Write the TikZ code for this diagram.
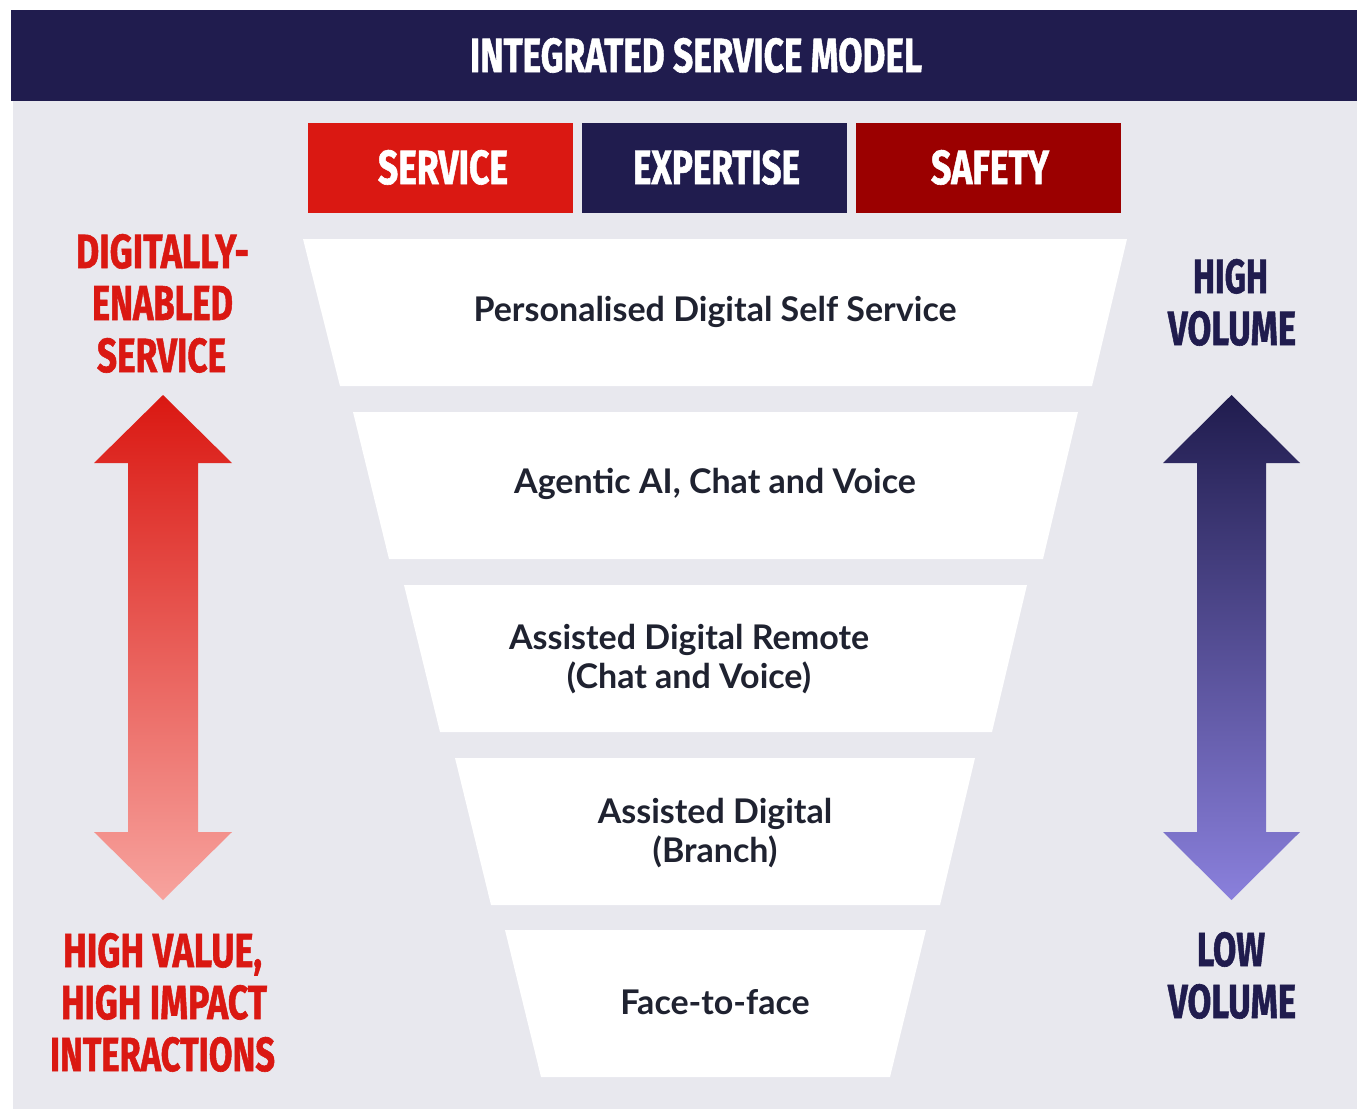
\documentclass[tikz,border=0pt]{standalone}
\usepackage{fontspec}
\usepackage{graphicx}
\setmainfont{Lato}
\newfontfamily\headfont[BoldFeatures={FakeBold=1.3}]{Fira Sans}
\definecolor{navy}{HTML}{201C4E}
\definecolor{panel}{HTML}{E8E8EE}
\definecolor{redA}{HTML}{DA1812}
\definecolor{redB}{HTML}{9B0000}
\definecolor{ink}{HTML}{1F2230}
\newcommand{\cond}[2]{\resizebox{#1pt}{34pt}{\headfont\bfseries #2}}
\tikzset{
  hbox/.style={inner sep=0pt, anchor=base},
  tier/.style={fill=white, draw=none},
  tiertext/.style={text=ink, font=\bfseries\fontsize{34}{39}\selectfont, align=center, inner sep=0pt},
}
\begin{document}
\begin{tikzpicture}[x=1pt,y=-1pt]
\useasboundingbox (0,0) rectangle (1357,1111);
\fill[white] (0,0) rectangle (1357,1111);
% panel and banner
\fill[panel] (13,101) rectangle (1357,1109);
\fill[navy] (11,10) rectangle (1357,101);
\node[hbox, text=white] (title) at (696,72) {\cond{452}{INTEGRATED SERVICE MODEL}};
% header boxes
\fill[redA] (308,123) rectangle (573,213);
\fill[navy] (582,123) rectangle (847,213);
\fill[redB] (856,123) rectangle (1121,213);
\node[hbox, text=white] (service) at (443,184) {\cond{130}{SERVICE}};
\node[hbox, text=white] (expertise) at (716.5,184) {\cond{167}{EXPERTISE}};
\node[hbox, text=white] (safety) at (990,184) {\cond{118}{SAFETY}};
% funnel tiers
\fill[tier] (303,239) -- (1127,239) -- (1092,386) -- (340,386) -- cycle;
\fill[tier] (353,412) -- (1078,412) -- (1043,559) -- (389,559) -- cycle;
\fill[tier] (404,585) -- (1027,585) -- (992,732) -- (440,732) -- cycle;
\fill[tier] (455,758) -- (975,758) -- (940,905) -- (491,905) -- cycle;
\fill[tier] (505,930) -- (926,930) -- (890,1077) -- (541,1077) -- cycle;
\node[tiertext] (t1) at (715,312) {Personalised Digital Self Service};
\node[tiertext] (t2) at (715,484) {Agentic AI, Chat and Voice};
\node[tiertext] (t3) at (689,659) {Assisted Digital Remote\\(Chat and Voice)};
\node[tiertext] (t4) at (715,833) {Assisted Digital\\(Branch)};
\node[tiertext] (t5) at (715,1002) {Face-to-face};
% left labels
\node[hbox, text=redA] (l1) at (162.5,268) {\cond{173}{DIGITALLY-}};
\node[hbox, text=redA] (l2) at (162.5,320) {\cond{141}{ENABLED}};
\node[hbox, text=redA] (l3) at (161.5,372) {\cond{129}{SERVICE}};
\node[hbox, text=redA] (l4) at (162.5,967) {\cond{199}{HIGH VALUE,}};
\node[hbox, text=redA] (l5) at (164,1019) {\cond{206}{HIGH IMPACT}};
\node[hbox, text=redA] (l6) at (162.5,1071) {\cond{225}{INTERACTIONS}};
% right labels
\node[hbox, text=navy] (r1) at (1230.5,293) {\cond{75}{HIGH}};
\node[hbox, text=navy] (r2) at (1232,345) {\cond{128}{VOLUME}};
\node[hbox, text=navy] (r3) at (1231,966) {\cond{68}{LOW}};
\node[hbox, text=navy] (r4) at (1232,1018) {\cond{128}{VOLUME}};
% arrows
\shade[top color=redA, middle color={rgb,255:red,240;green,104;blue,100}, bottom color={rgb,255:red,247;green,163;blue,158}]
  (163,395) -- (232,463) -- (198,463) -- (198,832) -- (232,832) -- (163,900)
  -- (94,832) -- (128,832) -- (128,463) -- (94,463) -- cycle;
\shade[top color=navy, middle color={rgb,255:red,78;green,64;blue,200}, bottom color={rgb,255:red,138;green,128;blue,220}]
  (1231.5,395) -- (1300,463) -- (1266,463) -- (1266,832) -- (1300,832) -- (1231.5,900)
  -- (1163,832) -- (1197,832) -- (1197,463) -- (1163,463) -- cycle;
\end{tikzpicture}
\end{document}
